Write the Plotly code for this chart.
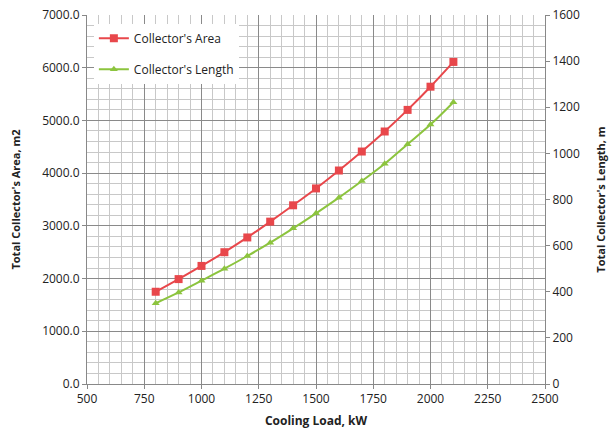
import plotly.graph_objects as go

cooling_load = [800, 900, 1000, 1100, 1200, 1300, 1400, 1500, 1600, 1700, 1800, 1900, 2000, 2100]
collector_area = [1750, 1990, 2240, 2500, 2780, 3080, 3390, 3710, 4050, 4410, 4790, 5200, 5640, 6110]
collector_length = [350, 397, 448, 500, 555, 613, 675, 740, 808, 880, 955, 1040, 1125, 1222]

FONT = "Open Sans"
RED = "#E8474B"
GREEN = "#8CC43E"

fig = go.Figure()
fig.add_trace(go.Scatter(
    x=cooling_load, y=collector_area, name="Collector's Area", legendgroup="a",
    mode="lines+markers", line=dict(color=RED, width=2, shape="spline"),
    marker=dict(symbol="square", size=8, color=RED), yaxis="y"))
fig.add_trace(go.Scatter(
    x=cooling_load, y=collector_length, name="Collector's Length", legendgroup="b",
    mode="lines+markers", line=dict(color=GREEN, width=2, shape="spline"),
    marker=dict(symbol="triangle-up", size=7, color=GREEN), yaxis="y2"))

fig.update_layout(
    width=610, height=435,
    margin=dict(l=87, r=65, t=15, b=51, autoexpand=False),
    paper_bgcolor="white", plot_bgcolor="white",
    font=dict(family=FONT, size=12, color="#222"),
    showlegend=True,
    legend=dict(x=0.015, y=0.976, xanchor="left", yanchor="top",
                bgcolor="white", borderwidth=0, font=dict(size=12, color="#222"),
                tracegroupgap=12, itemwidth=30),
    xaxis=dict(
        range=[500, 2500], dtick=250, tick0=500,
        showgrid=True, gridcolor="#8a8a8a", gridwidth=1,
        minor=dict(dtick=50, showgrid=True, gridcolor="#c8c8c8", gridwidth=1),
        showline=True, linecolor="#888", linewidth=1,
        ticks="outside", ticklen=4, tickcolor="#888",
        zeroline=False, ticklabeloverflow="allow",
        title=dict(text="<b>Cooling Load, kW</b>", font=dict(size=12), standoff=10),
    ),
    yaxis=dict(
        range=[0, 7000], dtick=1000, tickformat=".1f",
        showgrid=True, gridcolor="#8a8a8a", gridwidth=1,
        minor=dict(dtick=200, showgrid=True, gridcolor="#c8c8c8", gridwidth=1),
        showline=True, linecolor="#888", linewidth=1,
        ticks="outside", ticklen=4, tickcolor="#888",
        zeroline=False, ticklabeloverflow="allow",
        title=dict(text="<b>Total Collector's Area, m2</b>", font=dict(size=11), standoff=19),
    ),
    yaxis2=dict(
        range=[0, 1600], dtick=200, overlaying="y", side="right",
        showgrid=False, showline=True, linecolor="#888", linewidth=1,
        ticks="outside", ticklen=4, tickcolor="#888",
        zeroline=False, ticklabeloverflow="allow",
        title=dict(text="<b>Total Collector's Length, m</b>", font=dict(size=11), standoff=18),
    ),
)

fig.write_html("out.html", config={"displayModeBar": False},
               post_script="document.body.style.margin='0';")
